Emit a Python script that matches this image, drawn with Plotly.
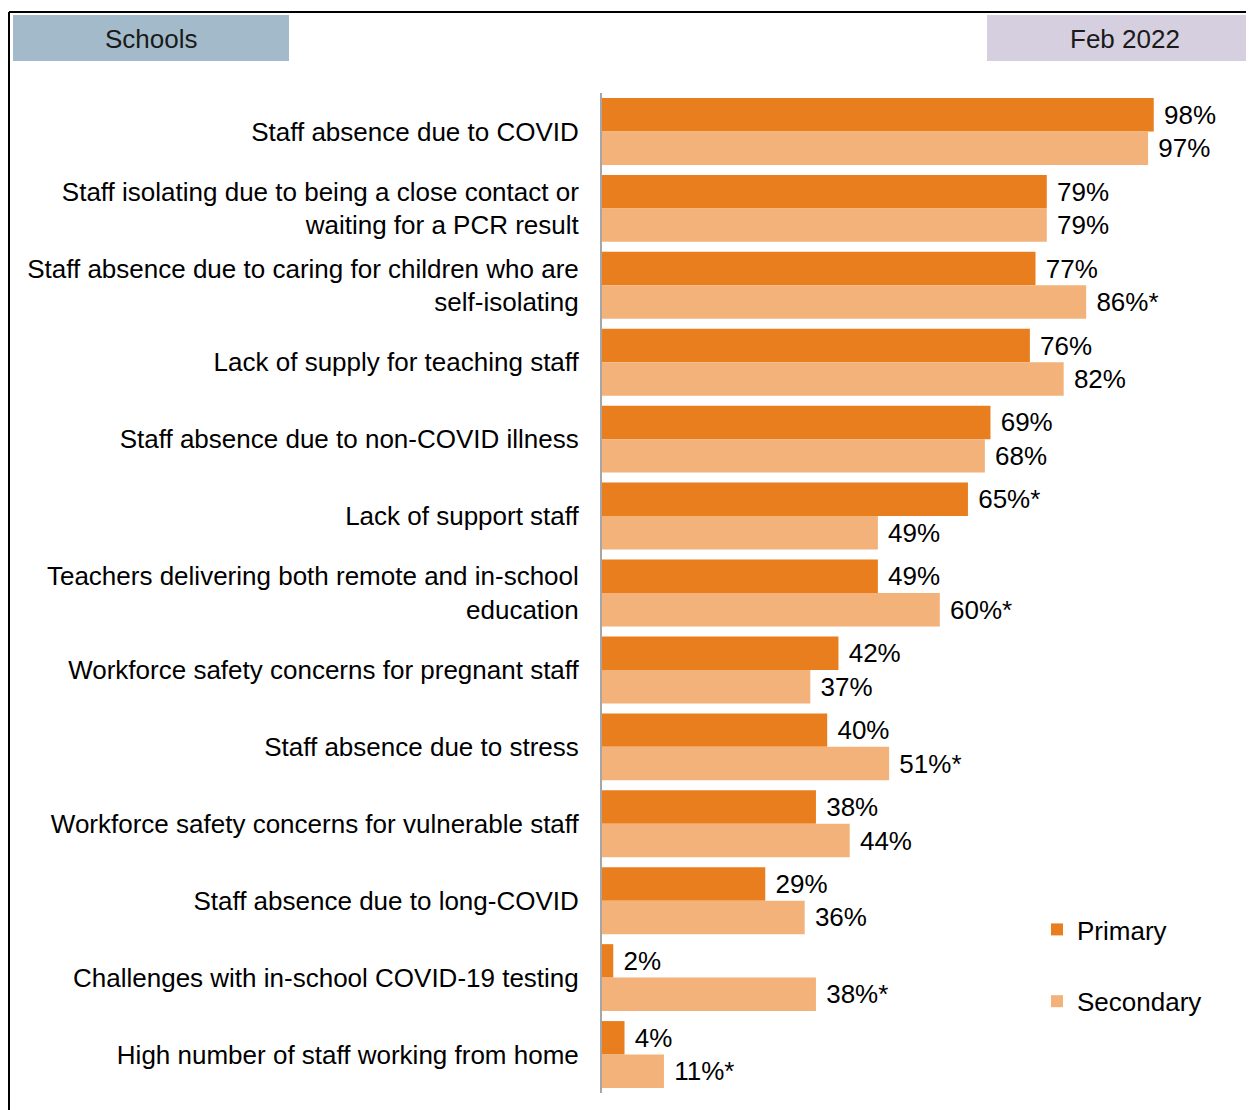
import plotly.graph_objects as go

W, H = 1254, 1110

categories = [
    "Staff absence due to COVID",
    "Staff isolating due to being a close contact or<br>waiting for a PCR result",
    "Staff absence due to caring for children who are<br>self-isolating",
    "Lack of supply for teaching staff",
    "Staff absence due to non-COVID illness",
    "Lack of support staff",
    "Teachers delivering both remote and in-school<br>education",
    "Workforce safety concerns for pregnant staff",
    "Staff absence due to stress",
    "Workforce safety concerns for vulnerable staff",
    "Staff absence due to long-COVID",
    "Challenges with in-school COVID-19 testing",
    "High number of staff working from home",
]
primary = [98, 79, 77, 76, 69, 65, 49, 42, 40, 38, 29, 2, 4]
secondary = [97, 79, 86, 82, 68, 49, 60, 37, 51, 44, 36, 38, 11]
primary_sig = [False, False, False, False, False, True, False, False, False, False, False, False, False]
secondary_sig = [False, False, True, False, False, False, True, False, True, False, False, True, True]

header_left = "Schools"
header_right = "Feb 2022"

C_PRI = "#E87E1E"
C_SEC = "#F2B27A"
FONT = "Liberation Sans, Arial, sans-serif"
FS = 26
OFF = 8  # page offset of the rendered figure


def labels(vals, sig):
    return [" %d%%%s" % (v, "*" if s else "") for v, s in zip(vals, sig)]


fig = go.Figure()
fig.add_trace(go.Bar(
    y=categories, x=primary, orientation="h", name="Primary",
    marker=dict(color=C_PRI, line=dict(width=0)),
    text=labels(primary, primary_sig), textposition="outside",
    textfont=dict(size=FS, color="#000000", family=FONT),
    cliponaxis=False, constraintext="none", legendgroup="p",
))
fig.add_trace(go.Bar(
    y=categories, x=secondary, orientation="h", name="Secondary",
    marker=dict(color=C_SEC, line=dict(width=0)),
    text=labels(secondary, secondary_sig), textposition="outside",
    textfont=dict(size=FS, color="#000000", family=FONT),
    cliponaxis=False, constraintext="none", legendgroup="s",
))

x0, x1 = 602, 1165
ytop, ybot = 93, 1093

def px(x):
    return (x - OFF) / W

def py(y):
    return 1 - (y - OFF) / H

fig.update_layout(
    width=W, height=H,
    margin=dict(l=0, r=0, t=0, b=0),
    paper_bgcolor="white", plot_bgcolor="white",
    font=dict(family=FONT, size=FS, color="#000000"),
    barmode="group", bargap=0.13, bargroupgap=0,
    xaxis=dict(domain=[px(x0), px(x1)], range=[0, 100], showgrid=False,
               zeroline=False, showticklabels=False, showline=False, fixedrange=True),
    yaxis=dict(domain=[py(ybot), py(ytop)], autorange="reversed", showgrid=False,
               zeroline=False, showline=True, linecolor="#A6A6A6", linewidth=2,
               ticks="", ticklabelstandoff=16, tickfont=dict(size=FS, color="#000000")),
    legend=dict(x=px(1037), y=py(906), xanchor="left", yanchor="top",
                traceorder="grouped", tracegroupgap=35,
                font=dict(size=FS, color="#000000"), bgcolor="rgba(0,0,0,0)"),
    showlegend=True,
)

shapes = [
    # border lines
    dict(type="line", xref="paper", yref="paper", x0=px(9), x1=1, y0=py(12), y1=py(12),
         line=dict(color="#000000", width=2)),
    dict(type="line", xref="paper", yref="paper", x0=px(9), x1=px(9), y0=py(12), y1=0,
         line=dict(color="#000000", width=2)),
    # header boxes
    dict(type="rect", xref="paper", yref="paper", x0=px(13), x1=px(289), y0=py(61), y1=py(15),
         fillcolor="#A2BAC9", line=dict(width=0), layer="below"),
    dict(type="rect", xref="paper", yref="paper", x0=px(987), x1=1, y0=py(61), y1=py(15),
         fillcolor="#D5CFE0", line=dict(width=0), layer="below"),
]
fig.update_layout(shapes=shapes)

fig.add_annotation(x=px(151), y=py(39), xref="paper", yref="paper", text=header_left,
                   showarrow=False, font=dict(size=FS, color="#1a1a1a"),
                   xanchor="center", yanchor="middle")
fig.add_annotation(x=px(1125), y=py(39), xref="paper", yref="paper", text=header_right,
                   showarrow=False, font=dict(size=FS, color="#1a1a1a"),
                   xanchor="center", yanchor="middle")

fig.write_html("out.html")
